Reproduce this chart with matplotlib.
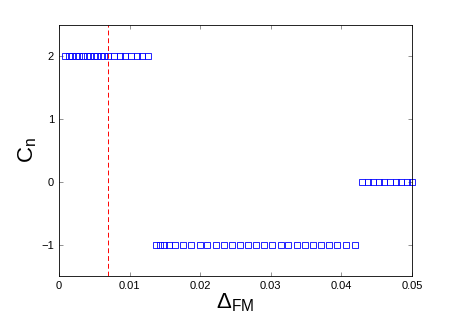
import matplotlib
matplotlib.use("Agg")
import matplotlib.pyplot as plt

# Datos
x_top = [0.0009, 0.0014, 0.0019, 0.0024, 0.0029, 0.0034, 0.0039, 0.0044, 0.0049,
         0.0054, 0.0059, 0.0064, 0.0070, 0.0078, 0.0086, 0.0094, 0.0102, 0.0110,
         0.0118, 0.0126]
c_top = [2] * len(x_top)

x_mid = [0.0137, 0.0143, 0.0149, 0.0156, 0.0164, 0.0176, 0.0187, 0.0199, 0.0210,
         0.0222, 0.0233, 0.0245, 0.0256, 0.0268, 0.0279, 0.0291, 0.0302, 0.0314,
         0.0325, 0.0337, 0.0348, 0.0360, 0.0371, 0.0383, 0.0394, 0.0406, 0.0419]
c_mid = [-1] * len(x_mid)

x_end = [0.0429, 0.0437, 0.0445, 0.0453, 0.0461, 0.0469, 0.0477, 0.0485, 0.0493, 0.0500]
c_end = [0] * len(x_end)

delta_crit = 0.007

plt.rcParams["font.family"] = ["Liberation Sans", "DejaVu Sans"]
plt.rcParams["mathtext.fontset"] = "custom"
plt.rcParams["mathtext.rm"] = "Liberation Sans"
plt.rcParams["mathtext.it"] = "Liberation Sans"

fig = plt.figure(figsize=(4.54, 3.24), dpi=100)
ax = fig.add_axes([0.130, 0.148, 0.7775, 0.775])

for xs, cs in [(x_top, c_top), (x_mid, c_mid), (x_end, c_end)]:
    ax.plot(xs, cs, "s", color="blue", markerfacecolor="none",
            markersize=4.3, markeredgewidth=0.6, clip_on=False)

ax.axvline(delta_crit, color="red", linestyle=(0, (5, 3)), linewidth=0.7)

ax.set_xlim(0, 0.05)
ax.set_ylim(-1.5, 2.5)
ax.set_xticks([0, 0.01, 0.02, 0.03, 0.04, 0.05])
ax.set_xticklabels(["0", "0.01", "0.02", "0.03", "0.04", "0.05"])
ax.set_yticks([-1, 0, 1, 2])
ax.tick_params(direction="in", top=True, right=True, labelsize=8, length=3,
               width=0.5, color="0.4")
for s in ax.spines.values():
    s.set_linewidth(0.6)

ax.set_xlabel(r"$\Delta_{\mathrm{FM}}$", fontsize=16, labelpad=0)
ax.set_ylabel(r"$\mathrm{C}_{\mathrm{n}}$", fontsize=16, labelpad=2)

fig.savefig("out.png", dpi=100)
